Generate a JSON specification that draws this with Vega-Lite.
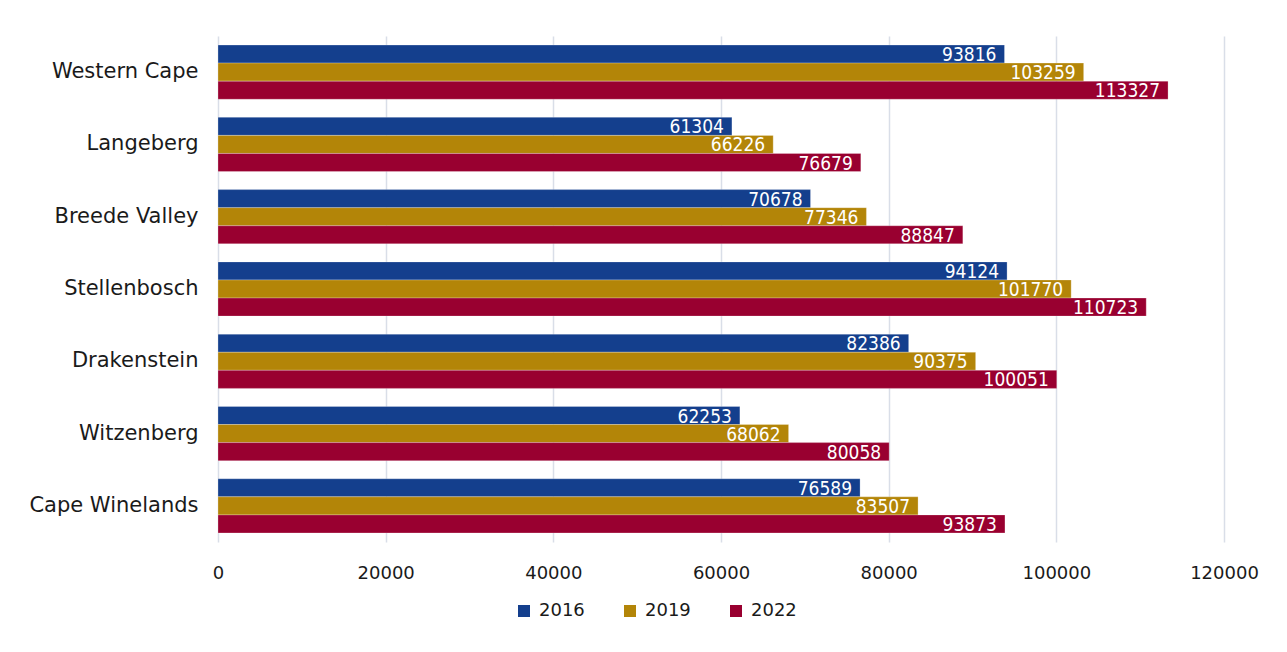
{
  "$schema": "https://vega.github.io/schema/vega-lite/v6.json",
  "width": 1006,
  "height": 506,
  "autosize": {"type": "none"},
  "padding": {"left": 218, "top": 36, "right": 63, "bottom": 110},
  "background": "white",
  "config": {
    "view": {"stroke": null},
    "font": "DejaVu Sans"
  },
  "data": {
    "values": [
      {"region": "Western Cape", "year": "2016", "value": 93816},
      {"region": "Western Cape", "year": "2019", "value": 103259},
      {"region": "Western Cape", "year": "2022", "value": 113327},
      {"region": "Langeberg", "year": "2016", "value": 61304},
      {"region": "Langeberg", "year": "2019", "value": 66226},
      {"region": "Langeberg", "year": "2022", "value": 76679},
      {"region": "Breede Valley ", "year": "2016", "value": 70678},
      {"region": "Breede Valley ", "year": "2019", "value": 77346},
      {"region": "Breede Valley ", "year": "2022", "value": 88847},
      {"region": "Stellenbosch", "year": "2016", "value": 94124},
      {"region": "Stellenbosch", "year": "2019", "value": 101770},
      {"region": "Stellenbosch", "year": "2022", "value": 110723},
      {"region": "Drakenstein", "year": "2016", "value": 82386},
      {"region": "Drakenstein", "year": "2019", "value": 90375},
      {"region": "Drakenstein", "year": "2022", "value": 100051},
      {"region": "Witzenberg", "year": "2016", "value": 62253},
      {"region": "Witzenberg", "year": "2019", "value": 68062},
      {"region": "Witzenberg", "year": "2022", "value": 80058},
      {"region": "Cape Winelands", "year": "2016", "value": 76589},
      {"region": "Cape Winelands", "year": "2019", "value": 83507},
      {"region": "Cape Winelands", "year": "2022", "value": 93873}
    ]
  },
  "encoding": {
    "y": {
      "field": "region",
      "type": "nominal",
      "sort": ["Western Cape", "Langeberg", "Breede Valley ", "Stellenbosch", "Drakenstein", "Witzenberg", "Cape Winelands"],
      "scale": {"paddingInner": 0.25, "paddingOuter": 0.125},
      "axis": {
        "title": null,
        "domain": false,
        "ticks": false,
        "labelFontSize": 21,
        "labelColor": "#1a1a1a",
        "labelPadding": 20,
        "labelFont": "DejaVu Sans",
        "labelLimit": 300
      }
    },
    "yOffset": {
      "field": "year",
      "type": "nominal",
      "scale": {"paddingInner": 0, "paddingOuter": 0}
    },
    "x": {
      "field": "value",
      "type": "quantitative",
      "scale": {"domain": [0, 120000], "nice": false},
      "axis": {
        "title": null,
        "domain": false,
        "ticks": false,
        "values": [0, 20000, 40000, 60000, 80000, 100000, 120000],
        "format": "d",
        "labelFlush": false,
        "labelFontSize": 18,
        "labelColor": "#1a1a1a",
        "labelPadding": 22,
        "labelFont": "DejaVu Sans",
        "grid": true,
        "gridColor": "#D9DEE8",
        "gridWidth": 1.5
      }
    }
  },
  "layer": [
    {
      "mark": {"type": "bar", "stroke": "white", "strokeWidth": 0.5, "strokeOpacity": 0.5},
      "encoding": {
        "color": {
          "field": "year",
          "type": "nominal",
          "scale": {"domain": ["2016", "2019", "2022"], "range": ["#143F8D", "#B38508", "#990030"]},
          "legend": {
            "title": null,
            "orient": "none",
            "direction": "horizontal",
            "legendX": 297,
            "legendY": 566,
            "symbolType": "square",
            "symbolSize": 144,
            "symbolStrokeWidth": 0,
            "labelFontSize": 18,
            "labelColor": "#1a1a1a",
            "labelFont": "DejaVu Sans",
            "columnPadding": 36,
            "labelOffset": 6
          }
        }
      }
    },
    {
      "mark": {
        "type": "text",
        "align": "right",
        "baseline": "middle",
        "dx": -8,
        "dy": 1,
        "color": "white",
        "font": "DejaVu Sans Condensed, Roboto Condensed, Roboto, sans-serif",
        "fontSize": 19
      },
      "encoding": {
        "text": {"field": "value", "type": "quantitative", "format": "d"}
      }
    }
  ]
}
